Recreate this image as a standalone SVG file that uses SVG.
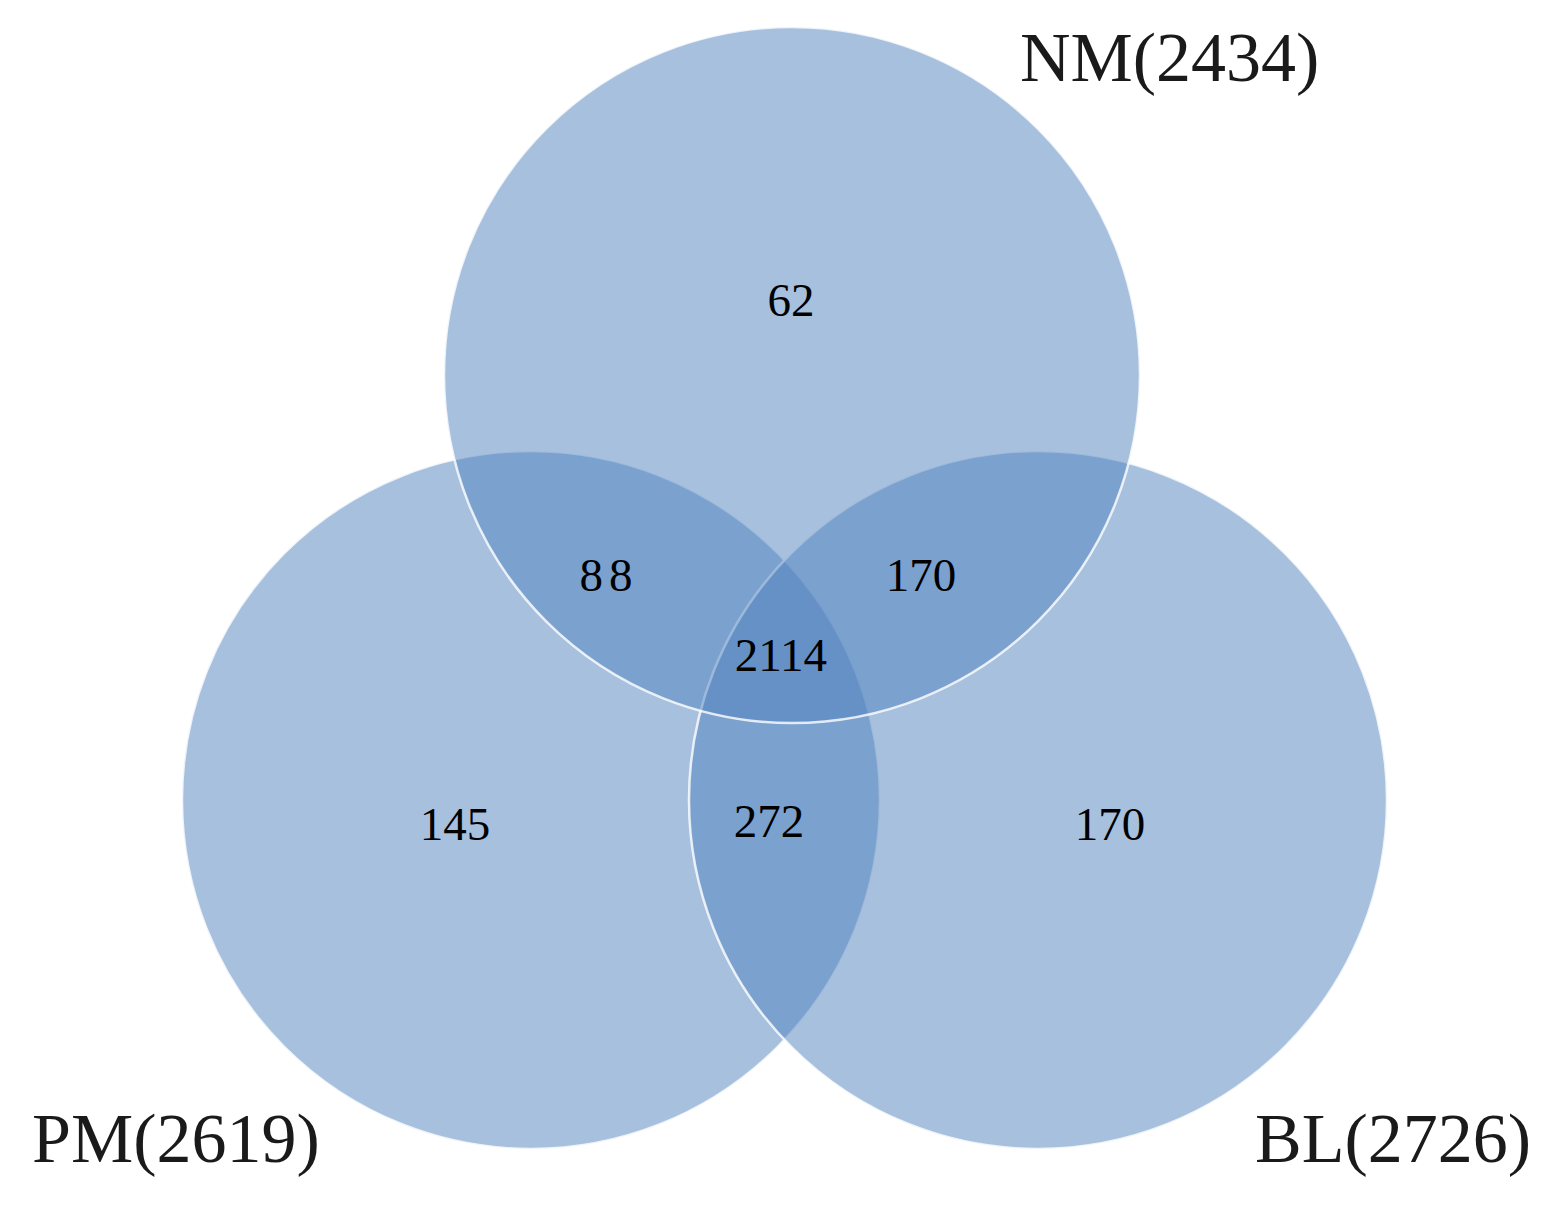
<svg xmlns="http://www.w3.org/2000/svg" width="1561" height="1219" viewBox="0 0 1561 1219">
<style>
.c{fill:#4F81BD;fill-opacity:0.5;stroke:#ffffff;stroke-width:2.5;stroke-opacity:0.8}
.lbl{font-family:"Liberation Serif","Times New Roman",serif;font-size:70px;fill:#1a1a1a}
.num{font-family:"Liberation Serif","Times New Roman",serif;font-size:47px;fill:#000;text-anchor:middle}
</style>
<rect width="1561" height="1219" fill="#ffffff"/>
<g id="PM"><circle class="c" cx="531" cy="800" r="349"/></g>
<g id="BL"><circle class="c" cx="1038" cy="800" r="349"/></g>
<g id="NM"><circle class="c" cx="792" cy="375" r="348"/></g>
<g id="labels">
<text class="lbl" x="1020" y="81">NM(2434)</text>
<text class="lbl" x="32" y="1162">PM(2619)</text>
<text class="lbl" x="1255" y="1162">BL(2726)</text>
</g>
<g id="counts">
<text class="num" x="791" y="316">62</text>
<text class="num" x="609" y="591" letter-spacing="6">88</text>
<text class="num" x="921" y="591">170</text>
<text class="num" x="781" y="671">2114</text>
<text class="num" x="455" y="840">145</text>
<text class="num" x="769" y="837">272</text>
<text class="num" x="1110" y="840">170</text>
</g>
</svg>
